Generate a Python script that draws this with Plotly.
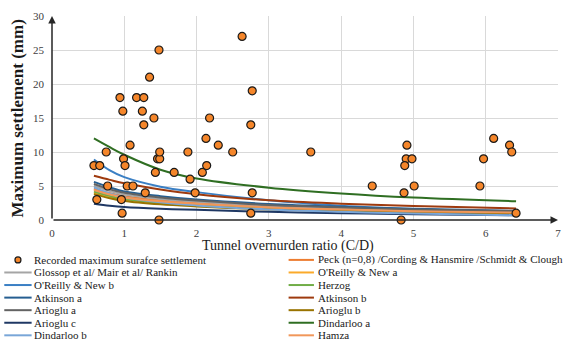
import plotly.graph_objects as go

# ---------------- data ----------------
rec_x = [0.58, 0.66, 0.62, 0.75, 0.77, 0.94, 0.98, 0.99, 1.01, 0.96, 0.97, 1.04, 1.12, 1.08,
         1.17, 1.27, 1.25, 1.27, 1.35, 1.41, 1.29, 1.43, 1.46, 1.49, 1.49, 1.48, 1.48, 1.69,
         1.88, 1.91, 1.98, 2.08, 2.14, 2.13, 2.18, 2.30, 2.50, 2.63, 2.77, 2.75, 2.77, 2.75,
         3.58, 4.43, 4.91, 4.90, 4.98, 4.88, 5.01, 4.87, 4.83, 6.11, 6.33, 6.36, 5.97, 5.92, 6.42]
rec_y = [8, 8, 3, 10, 5, 18, 16, 9, 8, 3, 1, 5, 5, 11,
         18, 18, 16, 14, 21, 15, 4, 7, 9, 9, 10, 25, 0, 7,
         10, 6, 4, 7, 8, 12, 15, 11, 10, 27, 19, 14, 4, 1,
         10, 5, 11, 9, 9, 8, 5, 4, 0, 12, 11, 10, 9, 5, 1]

cd = [0.58, 0.8, 1.0, 1.5, 2.0, 3.0, 4.0, 5.0, 6.42]

peck        = [4.6, 3.95, 3.5, 2.9, 2.5, 1.95, 1.6, 1.4, 1.15]
glossop     = [5.0, 4.25, 3.75, 3.1, 2.7, 2.1, 1.75, 1.5, 1.25]
oreilly_a   = [4.0, 3.4, 3.0, 2.5, 2.15, 1.65, 1.4, 1.2, 1.0]
oreilly_b   = [8.9, 7.3, 6.3, 4.9, 4.1, 2.9, 2.1, 1.6, 1.15]
herzog      = [4.2, 3.55, 3.1, 2.55, 2.2, 1.7, 1.4, 1.2, 1.0]
atkinson_a  = [5.6, 4.8, 4.2, 3.5, 3.0, 2.35, 1.95, 1.65, 1.35]
atkinson_b  = [6.5, 5.9, 5.4, 4.5, 3.8, 2.9, 2.4, 2.05, 1.7]
arioglu_a   = [5.3, 4.5, 4.0, 3.3, 2.85, 2.2, 1.85, 1.55, 1.3]
arioglu_b   = [3.8, 3.2, 2.8, 2.3, 2.0, 1.55, 1.3, 1.1, 0.9]
arioglu_c   = [2.4, 2.1, 1.9, 1.65, 1.5, 1.2, 1.0, 0.85, 0.7]
dindarloo_a = [12.0, 10.7, 9.6, 7.4, 6.1, 4.75, 3.9, 3.3, 2.75]
dindarloo_b = [4.8, 3.9, 3.35, 2.6, 2.15, 1.55, 1.2, 0.95, 0.7]
hamza       = [4.4, 3.75, 3.3, 2.75, 2.4, 1.85, 1.55, 1.3, 1.1]

x_ticks = [0, 1, 2, 3, 4, 5, 6, 7]
y_ticks = [0, 5, 10, 15, 20, 25, 30]

series = [
    ("Peck (n=0,8) /Cording & Hansmire /Schmidt & Clough", peck, "#ED7D31"),
    ("Glossop et al/ Mair et al/ Rankin", glossop, "#A5A5A5"),
    ("O'Reilly & New a", oreilly_a, "#FBAA2A"),
    ("O'Reilly & New b", oreilly_b, "#3A7FC4"),
    ("Herzog", herzog, "#70AD47"),
    ("Atkinson a", atkinson_a, "#255E91"),
    ("Atkinson b", atkinson_b, "#9E3A0E"),
    ("Arioglu a", arioglu_a, "#636363"),
    ("Arioglu b", arioglu_b, "#997300"),
    ("Arioglu c", arioglu_c, "#1F3864"),
    ("Dindarloo a", dindarloo_a, "#2F6E22"),
    ("Dindarloo b", dindarloo_b, "#79A6D8"),
    ("Hamza", hamza, "#F1975A"),
]
rec_name = "Recorded maximum surafce settlement"
rec_color = "#F5862A"

FONT = "Liberation Serif"

fig = go.Figure()
for name, ys, col in series:
    fig.add_trace(go.Scatter(x=cd, y=ys, mode="lines", name=name,
                             line=dict(color=col, width=2, shape="spline"),
                             showlegend=False))
fig.add_trace(go.Scatter(x=rec_x, y=rec_y, mode="markers", name=rec_name,
                         marker=dict(color=rec_color, size=8,
                                     line=dict(color="#1a1a1a", width=1.2)),
                         cliponaxis=False, showlegend=False))

# ---------------- layout geometry ----------------
W, H = 567, 343
L, R, T, B = 52, 6, 16, 122.5
PW, PH = W - L - R, H - T - B


def pxx(px):
    return (px - L) / PW


def pxy(py):
    return (H - B - py) / PH


annotations = []
shapes = []

# axis arrows
annotations.append(dict(x=0, y=30, ax=0, ay=0, xref="x", yref="y", axref="x", ayref="y",
                        text="", showarrow=True, arrowhead=2, arrowsize=1, arrowwidth=1.5,
                        arrowcolor="#262626"))
annotations.append(dict(x=7, y=0, ax=0, ay=0, xref="x", yref="y", axref="x", ayref="y",
                        text="", showarrow=True, arrowhead=2, arrowsize=1, arrowwidth=1.5,
                        arrowcolor="#262626"))

# axis titles
annotations.append(dict(x=pxx(289.5), y=pxy(247), xref="paper", yref="paper",
                        text="Tunnel overnurden ratio (C/D)", showarrow=False,
                        xanchor="center", yanchor="middle",
                        font=dict(family=FONT, size=14, color="#1a1a1a")))
annotations.append(dict(x=pxx(17), y=pxy(118.5), xref="paper", yref="paper",
                        text="<b>Maximum settlement (mm)</b>", showarrow=False, textangle=-90,
                        xanchor="center", yanchor="middle",
                        font=dict(family=FONT, size=17, color="#1a1a1a")))

# legend (two columns, row-major)
entries = [(rec_name, rec_color, "marker")] + [(n, c, "line") for n, _, c in series]
row0, row_step = 260.5, 12.6
for i, (name, col, kind) in enumerate(entries):
    colidx, row = i % 2, i // 2
    yy = pxy(row0 + row * row_step)
    if colidx == 0:
        lx0, lx1, tx = 4, 31.5, 32.3
    else:
        lx0, lx1, tx = 290, 315.5, 317.5
    if kind == "marker":
        shapes.append(dict(type="circle", xref="paper", yref="paper",
                           xsizemode="pixel", ysizemode="pixel",
                           xanchor=pxx((lx0 + lx1) / 2), yanchor=yy,
                           x0=-3, x1=3, y0=-3, y1=3,
                           fillcolor=rec_color, line=dict(color="#1a1a1a", width=1.2)))
    else:
        shapes.append(dict(type="line", xref="paper", yref="paper",
                           x0=pxx(lx0), x1=pxx(lx1), y0=yy, y1=yy,
                           line=dict(color=col, width=2)))
    annotations.append(dict(x=pxx(tx), y=yy, xref="paper", yref="paper", text=name,
                            showarrow=False, xanchor="left", yanchor="middle",
                            font=dict(family=FONT, size=11, color="#1a1a1a")))

fig.update_layout(
    width=W, height=H,
    margin=dict(l=L, r=R, t=T, b=B, pad=0),
    paper_bgcolor="white", plot_bgcolor="white",
    showlegend=False,
    font=dict(family=FONT, size=11, color="#404040"),
    annotations=annotations, shapes=shapes,
    xaxis=dict(range=[0, 7], tickvals=x_ticks, ticktext=[str(v) for v in x_ticks],
               showgrid=True, gridcolor="#D9D9D9", gridwidth=1, zeroline=False,
               showline=False, ticks="", ticklabelstandoff=5,
               tickfont=dict(family=FONT, size=11, color="#404040")),
    yaxis=dict(range=[0, 30], tickvals=y_ticks, ticktext=[str(v) for v in y_ticks],
               showgrid=True, gridcolor="#D9D9D9", gridwidth=1, zeroline=False,
               showline=False, ticks="", ticklabelstandoff=7,
               tickfont=dict(family=FONT, size=11, color="#404040")),
)

fig.write_html("out.html")
